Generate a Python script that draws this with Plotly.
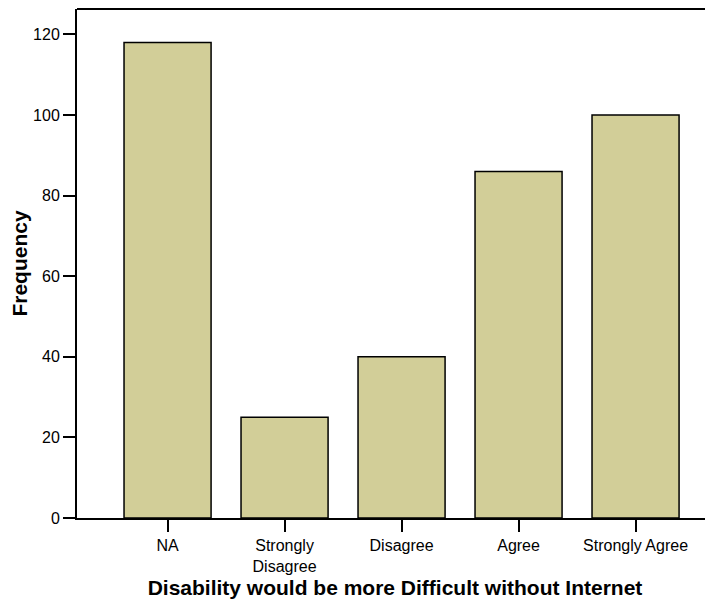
import plotly.graph_objects as go

categories = ["NA", "Strongly<br>Disagree", "Disagree", "Agree", "Strongly Agree"]
frequency = [118, 25, 40, 86, 100]

fig = go.Figure()
fig.add_trace(go.Bar(
    x=categories, y=frequency,
    marker=dict(color="#D2CE98", line=dict(color="black", width=1.5)),
    width=0.744,
))

fig.update_layout(
    width=705, height=591,
    margin=dict(l=69, r=0, t=1, b=81),
    paper_bgcolor="white", plot_bgcolor="white",
    font=dict(family="Liberation Sans, Arial, sans-serif", color="black", size=16),
    showlegend=False,
    xaxis=dict(
        range=[-0.774, 4.662],
        showline=True, linecolor="black", linewidth=2,
        ticks="outside", ticklen=12, tickwidth=1.5, tickcolor="black",
        showgrid=False, zeroline=False,
        tickfont=dict(size=16),
        title=dict(text="<b>Disability would be more Difficult without Internet</b>",
                   font=dict(size=21), standoff=6),
    ),
    yaxis=dict(
        range=[0, 126.3],
        tickvals=[0, 20, 40, 60, 80, 100, 120],
        showline=True, linecolor="black", linewidth=2,
        ticks="outside", ticklen=12, tickwidth=1.5, tickcolor="black",
        showgrid=False, zeroline=False,
        tickfont=dict(size=16),
        title=dict(text="<b>Frequency</b>", font=dict(size=21), standoff=6),
    ),
    shapes=[dict(type="line", xref="paper", yref="paper", x0=0, x1=1, y0=1, y1=1,
                 line=dict(color="black", width=2))],
)

fig.write_html("out.html")
